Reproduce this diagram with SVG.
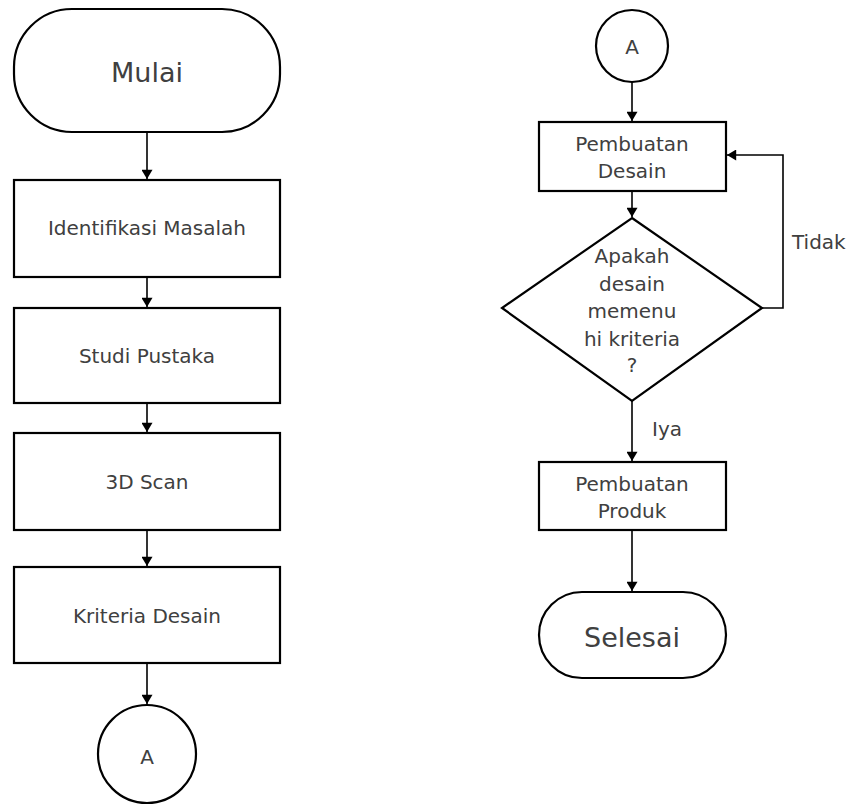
<svg xmlns="http://www.w3.org/2000/svg" width="850" height="808" viewBox="0 0 850 808">
<style>
.s{fill:#fff;stroke:#000;stroke-width:2.2}
.t{font-family:"DejaVu Sans","Liberation Sans",sans-serif;fill:#404040;text-anchor:middle;font-size:20px}
.big{font-size:27px}
.c{fill:none;stroke:#000;stroke-width:1.6}
</style>
<defs>
<marker id="ah" viewBox="0 0 10 12" refX="10" refY="6" markerWidth="12" markerHeight="11" markerUnits="userSpaceOnUse" orient="auto">
<path d="M0,0 L10,6 L0,12 Z" fill="#000"/>
</marker>
</defs>
<rect width="850" height="808" fill="#fff"/>
<g id="connectors">
<line class="c" x1="147" y1="132" x2="147" y2="179" marker-end="url(#ah)"/>
<line class="c" x1="147" y1="277" x2="147" y2="307" marker-end="url(#ah)"/>
<line class="c" x1="147" y1="403" x2="147" y2="432" marker-end="url(#ah)"/>
<line class="c" x1="147" y1="530" x2="147" y2="566" marker-end="url(#ah)"/>
<line class="c" x1="147" y1="663" x2="147" y2="704" marker-end="url(#ah)"/>
<line class="c" x1="632" y1="82" x2="632" y2="121" marker-end="url(#ah)"/>
<line class="c" x1="632" y1="191" x2="632" y2="217" marker-end="url(#ah)"/>
<polyline class="c" points="762,308 783,308 783,155 727,155" marker-end="url(#ah)"/>
<line class="c" x1="632" y1="401" x2="632" y2="461" marker-end="url(#ah)"/>
<line class="c" x1="632" y1="530" x2="632" y2="591" marker-end="url(#ah)"/>
<text class="t" x="792" y="249" style="text-anchor:start">Tidak</text>
<text class="t" x="652" y="436" style="text-anchor:start">Iya</text>
</g>
<g id="mulai">
<rect class="s" x="14" y="9" width="266" height="123" rx="58" ry="58"/>
<text class="t big" x="147" y="82">Mulai</text>
</g>
<g id="identifikasi">
<rect class="s" x="14" y="180" width="266" height="97"/>
<text class="t" x="147" y="235">Identifikasi Masalah</text>
</g>
<g id="studi">
<rect class="s" x="14" y="308" width="266" height="95"/>
<text class="t" x="147" y="363">Studi Pustaka</text>
</g>
<g id="scan">
<rect class="s" x="14" y="433" width="266" height="97"/>
<text class="t" x="147" y="489">3D Scan</text>
</g>
<g id="kriteria">
<rect class="s" x="14" y="567" width="266" height="96"/>
<text class="t" x="147" y="623">Kriteria Desain</text>
</g>
<g id="a-left">
<circle class="s" cx="147" cy="754" r="49"/>
<text class="t" x="147" y="764">A</text>
</g>
<g id="a-right">
<circle class="s" cx="632" cy="46" r="36"/>
<text class="t" x="632" y="54">A</text>
</g>
<g id="desain">
<rect class="s" x="539" y="122" width="187" height="69"/>
<text class="t" x="632" y="151">Pembuatan</text>
<text class="t" x="632" y="178">Desain</text>
</g>
<g id="decision">
<polygon class="s" points="632,218 762,308 632,401 502,308"/>
<text class="t" x="632" y="263">Apakah</text>
<text class="t" x="632" y="291">desain</text>
<text class="t" x="632" y="318">memenu</text>
<text class="t" x="632" y="346">hi kriteria</text>
<text class="t" x="632" y="372">?</text>
</g>
<g id="produk">
<rect class="s" x="539" y="462" width="187" height="68"/>
<text class="t" x="632" y="491">Pembuatan</text>
<text class="t" x="632" y="518">Produk</text>
</g>
<g id="selesai">
<rect class="s" x="539" y="592" width="187" height="86" rx="43" ry="43"/>
<text class="t big" x="632" y="647">Selesai</text>
</g>
</svg>
